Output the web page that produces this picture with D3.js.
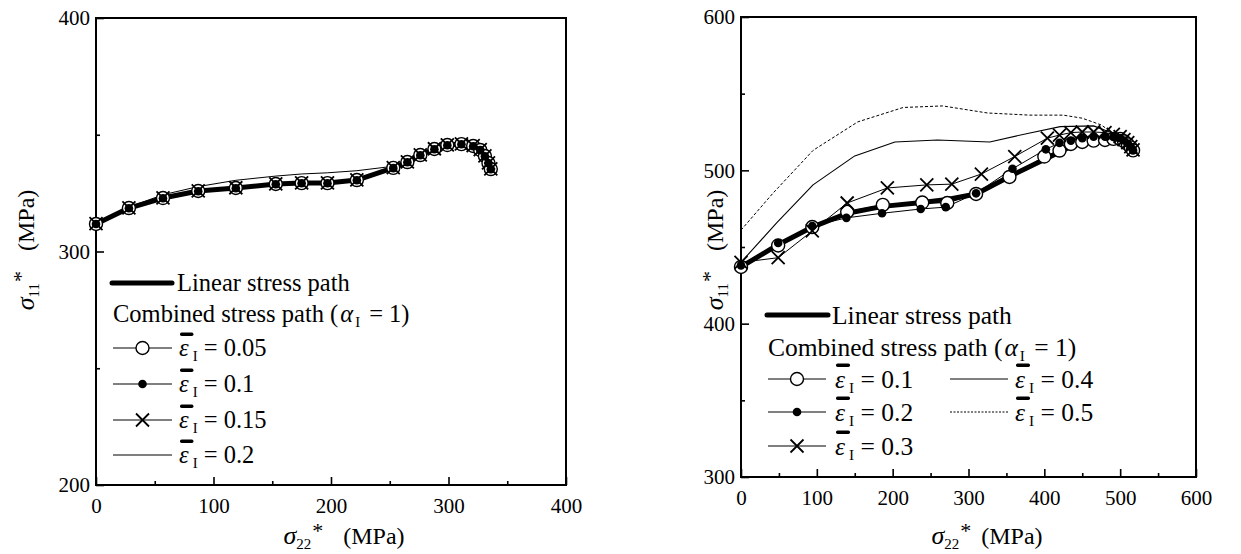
<!DOCTYPE html>
<html>
<head>
<meta charset="utf-8">
<script src="https://cdn.jsdelivr.net/npm/d3@7"></script>
<style>
  body { margin: 0; background: #fff; }
</style>
</head>
<body>
<script>
// ---- left panel data (sigma22*, sigma11*) ----
var leftX      = [0, 28, 57, 87, 119, 153, 175, 197, 222, 253, 265, 276, 288, 299, 311, 321, 327, 331, 334, 336];
var leftLinear = [311.8, 318.6, 322.9, 325.9, 327.2, 328.9, 329.3, 329.3, 330.6, 335.8, 338.3, 341.3, 343.9, 345.6, 346.0, 345.2, 343.5, 340.9, 337.9, 335.3];
var leftE005   = [311.8, 318.6, 322.9, 325.9, 327.2, 328.9, 329.3, 329.3, 330.6, 335.8, 338.3, 341.3, 343.9, 345.6, 346.0, 345.2, 343.5, 340.9, 337.9, 335.3];
var leftE01    = [311.8, 318.5, 322.8, 325.8, 327.1, 328.8, 329.2, 329.2, 330.5, 335.7, 338.2, 341.2, 343.8, 345.5, 345.9, 345.1, 343.4, 340.8, 337.8, 335.2];
var leftE015   = [311.9, 318.7, 323.0, 326.0, 327.3, 329.0, 329.4, 329.4, 330.7, 335.9, 338.4, 341.4, 344.0, 345.7, 346.1, 345.3, 343.6, 341.0, 338.0, 335.4];
var leftE02    = [311.8, 319.0, 324.3, 327.8, 330.5, 332.3, 333.2, 333.7, 334.6, 336.5, 338.6, 341.5, 344.0, 345.7, 346.1, 345.2, 343.5, 340.9, 337.9, 335.3];

// ---- right panel data ----
var rLinX = [0, 49, 94, 140, 187, 239, 272, 310, 358, 400, 420, 435, 450, 465, 480, 491, 500, 505, 510, 514, 517];
var rLinY = [437, 451.5, 463, 472, 476.5, 479, 481, 484.6, 497, 507, 512, 515.5, 518, 519.5, 519.8, 520, 520, 519, 517, 515, 513];
var rE01X = [0, 49, 94, 140, 187, 239, 272, 310, 354, 400, 420, 435, 450, 465, 480, 491, 500, 505, 510, 514, 517];
var rE01Y = [437, 451, 463, 473, 477.5, 479, 478.7, 484.6, 495.7, 509, 512.9, 517.2, 518.5, 519.4, 519.8, 520.5, 520.5, 519, 517, 515, 513];
var rE02X = [0, 49, 94, 139, 186, 237, 270, 310, 358, 402, 420, 435, 450, 465, 480, 491, 500, 505, 510, 514, 517];
var rE02Y = [438, 452.6, 463.7, 469, 472, 474.8, 476, 485, 501, 513.7, 517.9, 519.4, 521, 522, 522, 521.8, 521, 519.5, 517.5, 515.3, 513];
var rE03X = [0, 49, 94, 140, 193, 245, 278, 317, 361, 404, 420, 435, 450, 465, 480, 491, 500, 505, 510, 514, 517];
var rE03Y = [440, 443, 460.5, 478.7, 488.5, 490.5, 491, 497.6, 509, 521, 523, 524.6, 525, 525, 524.6, 523.5, 522, 520, 518, 515.5, 513.3];
var rE04X = [0, 47, 95, 150, 203, 259, 328, 381, 421, 465, 491, 505, 517];
var rE04Y = [440, 465.7, 490.5, 509.4, 518.5, 519.8, 518.5, 524.4, 528.5, 529, 524, 518, 513];
var rE05X = [0, 42, 95, 154, 214, 266, 325, 381, 425, 450, 475, 491, 505, 517];
var rE05Y = [461, 485, 513, 531.6, 541, 542, 537.4, 536, 536, 534, 529.6, 524, 518, 513];

var leftXTicks = [0, 100, 200, 300, 400];
var leftYTicks = [200, 300, 400];
var rightXTicks = [0, 100, 200, 300, 400, 500, 600];
var rightYTicks = [300, 400, 500, 600];

var FONT = "Liberation Serif";
var W = 1241, H = 554;
var svg = d3.select("body").append("svg").attr("width", W).attr("height", H);

function panel(xDom, yDom, xRange, yRange, xTicks, yTicks, xMinor, yMinor) {
    var x = d3.scaleLinear().domain(xDom).range(xRange);
    var y = d3.scaleLinear().domain(yDom).range(yRange);
    var g = svg.append("g");

    // minor ticks (inward)
    g.append("g").attr("transform", "translate(0," + yRange[0] + ")")
        .call(d3.axisBottom(x).tickValues(xMinor).tickSize(-4).tickFormat(""))
        .call(function (a) { a.select(".domain").remove(); });
    g.append("g").attr("transform", "translate(" + xRange[0] + ",0)")
        .call(d3.axisLeft(y).tickValues(yMinor).tickSize(-4).tickFormat(""))
        .call(function (a) { a.select(".domain").remove(); });

    // major ticks
    var xa = g.append("g").attr("transform", "translate(0," + yRange[0] + ")")
        .call(d3.axisBottom(x).tickValues(xTicks).tickSize(-8).tickPadding(13).tickFormat(d3.format("d")));
    var ya = g.append("g").attr("transform", "translate(" + xRange[0] + ",0)")
        .call(d3.axisLeft(y).tickValues(yTicks).tickSize(-8).tickPadding(6).tickFormat(d3.format("d")));
    [xa, ya].forEach(function (a) {
        a.select(".domain").remove();
        a.selectAll("text").attr("font-size", 21).attr("fill", "#000");
    });
    g.selectAll("line").attr("stroke", "#000").attr("stroke-width", 1.6);

    // frame
    g.append("rect")
        .attr("x", xRange[0]).attr("y", yRange[1])
        .attr("width", xRange[1] - xRange[0]).attr("height", yRange[0] - yRange[1])
        .attr("fill", "none").attr("stroke", "#000").attr("stroke-width", 2);

    return { x: x, y: y, g: g };
}

function drawLine(p, xs, ys, width, dash) {
    var line = d3.line().x(function (d) { return p.x(d[0]); }).y(function (d) { return p.y(d[1]); });
    p.g.append("path")
        .datum(d3.zip(xs, ys))
        .attr("d", line)
        .attr("fill", "none")
        .attr("stroke", "#000")
        .attr("stroke-width", width)
        .attr("stroke-linejoin", "round")
        .attr("stroke-dasharray", dash || null);
}

function drawMarkers(g, pts, type) {
    if (type === "open") {
        g.selectAll(null).data(pts).enter().append("circle")
            .attr("cx", function (d) { return d[0]; }).attr("cy", function (d) { return d[1]; })
            .attr("r", 6.5).attr("fill", "#fff").attr("stroke", "#000").attr("stroke-width", 1.4);
    } else if (type === "dot") {
        g.selectAll(null).data(pts).enter().append("circle")
            .attr("cx", function (d) { return d[0]; }).attr("cy", function (d) { return d[1]; })
            .attr("r", 4.3).attr("fill", "#000");
    } else if (type === "cross") {
        var s = 6.5;
        g.selectAll(null).data(pts).enter().append("path")
            .attr("d", function (d) {
                return "M" + (d[0] - s) + "," + (d[1] - s) + "L" + (d[0] + s) + "," + (d[1] + s) +
                       "M" + (d[0] - s) + "," + (d[1] + s) + "L" + (d[0] + s) + "," + (d[1] - s);
            })
            .attr("stroke", "#000").attr("stroke-width", 1.8).attr("fill", "none");
    }
}

function markers(p, xs, ys, type) {
    var pts = xs.map(function (v, i) { return [p.x(v), p.y(ys[i])]; });
    drawMarkers(p.g, pts, type);
}

// sigma label: sigma with subscript and a raised star
function sigmaTitle(g, sub, gap) {
    var t = g.append("text").attr("text-anchor", "middle").attr("font-size", 26);
    t.append("tspan").attr("font-style", "italic").text("σ");
    t.append("tspan").attr("font-size", 15).attr("dy", 5).text(sub);
    t.append("tspan").attr("font-size", 22).attr("dx", 1).attr("dy", -11).text("*");
    t.append("tspan").attr("font-size", 24).attr("dx", gap).attr("dy", 6).text("(MPa)");
    return t;
}

// epsilon-bar legend label
function epsLabel(g, x, y, val, fs) {
    var t = g.append("text").attr("x", x).attr("y", y).attr("font-size", fs);
    t.append("tspan").attr("font-style", "italic").text("ε");
    t.append("tspan").attr("font-size", fs * 0.6).attr("dy", 5).attr("dx", 4).text("I");
    t.append("tspan").attr("dy", -5).text(" = " + val);
    g.append("rect").attr("x", x + 1).attr("y", y - fs + 1).attr("width", fs * 0.55).attr("height", 3.4)
        .attr("rx", 1.6).attr("fill", "#000");
}

function legendSample(g, x0, x1, y, type, width, dash) {
    g.append("line").attr("x1", x0).attr("x2", x1).attr("y1", y).attr("y2", y)
        .attr("stroke", "#000").attr("stroke-width", width).attr("stroke-dasharray", dash || null)
        .attr("stroke-linecap", type === "thick" ? "round" : "butt");
    if (type && type !== "thick") drawMarkers(g, [[(x0 + x1) / 2, y]], type);
}

function combinedTitle(g, x, y, fs) {
    var t = g.append("text").attr("x", x).attr("y", y).attr("font-size", fs);
    t.append("tspan").text("Combined stress path (");
    t.append("tspan").attr("font-style", "italic").attr("dx", 2).text("α");
    t.append("tspan").attr("font-size", fs * 0.6).attr("dx", 2).attr("dy", 5).text("I");
    t.append("tspan").attr("dx", 3).attr("dy", -5).text(" = 1)");
}

// ---------- left panel ----------
var L = panel([0, 400], [200, 400], [96, 566], [485, 18], leftXTicks, leftYTicks,
              [50, 150, 250, 350], [250, 350]);
drawLine(L, leftX, leftE02, 1);
drawLine(L, leftX, leftE005, 1);
drawLine(L, leftX, leftLinear, 5);
markers(L, leftX, leftE005, "open");
markers(L, leftX, leftE01, "dot");
markers(L, leftX, leftE015, "cross");

var lt = sigmaTitle(svg.append("g"), "22", 20);
lt.attr("x", 344).attr("y", 544);
sigmaTitle(svg.append("g").attr("transform", "translate(34,250) rotate(-90)"), "11", 20);

var lfs = 24.5;
var lg = svg.append("g");
legendSample(lg, 112, 172, 283, "thick", 5);
lg.append("text").attr("x", 177).attr("y", 291).attr("font-size", lfs).text("Linear stress path");
combinedTitle(lg, 113, 322, lfs);
legendSample(lg, 113, 172, 348, "open", 1);
epsLabel(lg, 179, 356, "0.05", lfs);
legendSample(lg, 113, 172, 384, "dot", 1);
epsLabel(lg, 179, 392, "0.1", lfs);
legendSample(lg, 113, 172, 420, "cross", 1);
epsLabel(lg, 179, 428, "0.15", lfs);
legendSample(lg, 113, 172, 455, null, 1);
epsLabel(lg, 179, 463, "0.2", lfs);

// ---------- right panel ----------
var R = panel([0, 600], [300, 600], [741, 1196], [477, 17], rightXTicks, rightYTicks,
              [50, 150, 250, 350, 450, 550], [350, 450, 550]);
drawLine(R, rE05X, rE05Y, 1, "3,2");
drawLine(R, rE04X, rE04Y, 1.1);
drawLine(R, rE03X, rE03Y, 1);
drawLine(R, rE02X, rE02Y, 1);
drawLine(R, rE01X, rE01Y, 1);
drawLine(R, rLinX, rLinY, 5);
markers(R, rE01X, rE01Y, "open");
markers(R, rE02X, rE02Y, "dot");
markers(R, rE03X, rE03Y, "cross");

var rt = sigmaTitle(svg.append("g"), "22", 10);
rt.attr("x", 987).attr("y", 544);
sigmaTitle(svg.append("g").attr("transform", "translate(723,250) rotate(-90)"), "11", 20);

var rfs = 25.5;
var rg = svg.append("g");
legendSample(rg, 767, 828, 315, "thick", 5);
rg.append("text").attr("x", 832).attr("y", 324).attr("font-size", rfs).text("Linear stress path");
combinedTitle(rg, 768, 356, rfs);
legendSample(rg, 768, 826, 379, "open", 1);
epsLabel(rg, 835, 388, "0.1", rfs);
legendSample(rg, 768, 826, 412, "dot", 1);
epsLabel(rg, 835, 421, "0.2", rfs);
legendSample(rg, 768, 826, 446, "cross", 1);
epsLabel(rg, 835, 455, "0.3", rfs);
legendSample(rg, 950, 1008, 379, null, 1);
epsLabel(rg, 1015, 388, "0.4", rfs);
legendSample(rg, 950, 1008, 412, null, 1, "2,1.5");
epsLabel(rg, 1015, 421, "0.5", rfs);

// every text in the serif face, set directly on the elements
svg.selectAll("text, tspan").attr("font-family", FONT).attr("fill", "#000");
</script>
</body>
</html>
